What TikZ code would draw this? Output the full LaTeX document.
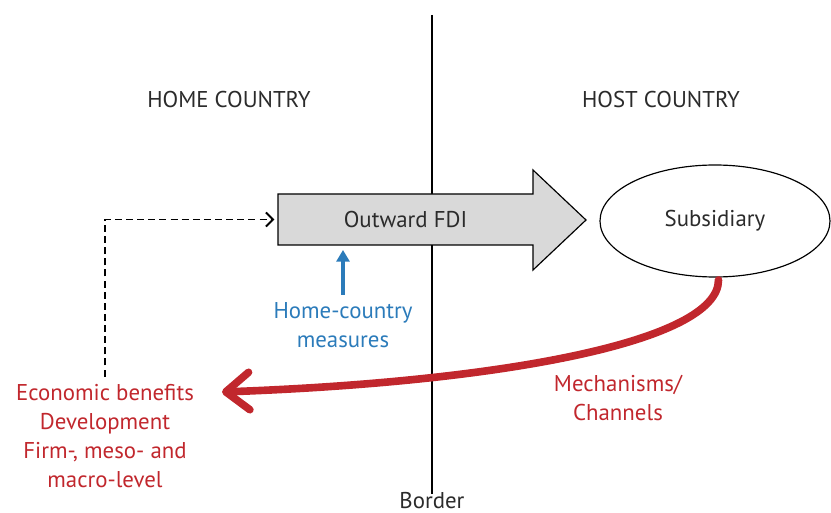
\documentclass[tikz,border=0pt]{standalone}
\usepackage{fontspec}
\setmainfont{PT Sans}
\usetikzlibrary{arrows.meta,shapes.geometric}
\definecolor{fdigray}{HTML}{D9D9D9}
\definecolor{hcblue}{HTML}{2B7BBA}
\definecolor{chred}{HTML}{C1272D}
\definecolor{txtgray}{HTML}{2B2B2B}
\tikzset{
	lbl/.style={font=\fontsize{19.5}{25}\selectfont, text=txtgray, align=center, inner sep=0pt},
	redlbl/.style={lbl, text=chred},
	bluelbl/.style={lbl, text=hcblue},
	fdiarrow/.style={draw=black, fill=fdigray, line width=1pt, line join=miter},
	dasharrow/.style={dash pattern=on 6pt off 3.5pt, line width=1.6pt, -{Straight Barb[length=6pt,width=12pt]}},
	bluearrow/.style={draw=hcblue, line width=3.3pt, -{Triangle[length=10pt,width=11pt]}},
	redarrow/.style={draw=chred, line width=6.5pt, line cap=round, -{Straight Barb[length=20pt,width=32pt,round]}}
}
\begin{document}
\begin{tikzpicture}[x=0.03cm, y=-0.03cm]
	\useasboundingbox (0,0) rectangle (831,513);
	\node[lbl] (home) at (229,100) {HOME COUNTRY};
	\node[lbl] (host) at (661,100) {HOST COUNTRY};
	\coordinate (bt) at (432,15);
	\node[lbl, anchor=north] (border) at (432,492) {Border};
	\draw[line width=1.7pt] (bt) -- ([yshift=-2pt]border.north);
	\draw[fdiarrow] (278,194) -- (533,194) -- (533,170) -- (586,220) -- (533,270) -- (533,245) -- (278,245) -- cycle;
	\node[lbl, minimum width=255*0.03cm, minimum height=51*0.03cm] (fdi) at (405.5,219.5) {Outward FDI};
	\node[lbl, draw=black, line width=1pt, ellipse, minimum width=230*0.03cm, minimum height=112*0.03cm] (sub) at (715,221) {Subsidiary};
	\node[bluelbl] (hcm) at (343,325) {Home-country\\measures};
	\node[redlbl] (ben) at (105,436) {Economic benefits\\Development\\Firm-, meso- and\\macro-level};
	\node[redlbl] (mech) at (618,398) {Mechanisms/\\Channels};
	\coordinate (bentip) at (222,392);
	\draw[bluearrow] ([yshift=6pt]hcm.north) -- ([yshift=-4pt]hcm.north |- fdi.south);
	\draw[dasharrow] ([yshift=6pt]ben.north) |- ([xshift=-3pt]fdi.west);
	\draw[redarrow] ([xshift=3pt,yshift=-2pt]sub.south) .. controls +(0,62) and (500,382) .. (bentip);
\end{tikzpicture}
\end{document}
